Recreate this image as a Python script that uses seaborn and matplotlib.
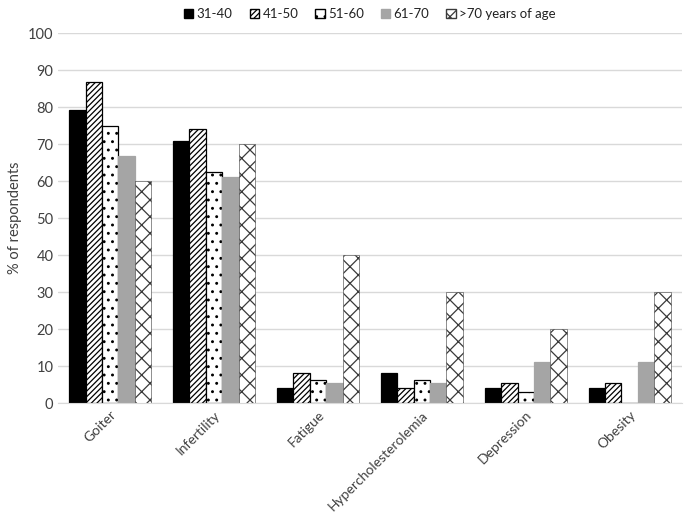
import pandas as pd
import seaborn as sb
from matplotlib import pyplot as plt
from matplotlib.patches import Patch

conditions = ['Goiter', 'Infertility', 'Fatigue', 'Hypercholesterolemia', 'Depression', 'Obesity']
age_groups = ['31-40', '41-50', '51-60', '61-70', '>70 years of age']
v_31_40 = [79.2, 70.8, 4.2, 8.3, 4.2, 4.2]
v_41_50 = [86.7, 74.1, 8.3, 4.2, 5.6, 5.6]
v_51_60 = [75.0, 62.5, 6.3, 6.3, 3.1, 0.0]
v_61_70 = [66.7, 61.1, 5.6, 5.6, 11.1, 11.1]
v_over70 = [60.0, 70.0, 40.0, 30.0, 20.0, 30.0]

rows = []
for grp, vals in zip(age_groups, [v_31_40, v_41_50, v_51_60, v_61_70, v_over70]):
    for cond, v in zip(conditions, vals):
        rows.append({'condition': cond, 'age': grp, 'value': v})
df = pd.DataFrame(rows)

sb.set_style('white')
plt.rcParams['font.family'] = ['Lato', 'DejaVu Sans']
plt.rcParams['hatch.linewidth'] = 0.9

fig, ax = plt.subplots(figsize=(6.85, 5.17), dpi=100)
sb.barplot(data=df, x='condition', y='value', hue='age', hue_order=age_groups,
           order=conditions, ax=ax, width=0.79, legend=False)

styles = [
    dict(facecolor='black', edgecolor='black', hatch=None, lw=0.9),
    dict(facecolor='white', edgecolor='black', hatch='//////', lw=0.9),
    dict(facecolor='white', edgecolor='black', hatch='..', lw=0.9),
    dict(facecolor='#a5a5a5', edgecolor='#a5a5a5', hatch=None, lw=0.9),
    dict(facecolor='white', edgecolor='#3a3a3a', hatch='xx', lw=0.4),
]
for cont, st in zip(ax.containers, styles):
    for p in cont.patches:
        p.set_facecolor(st['facecolor'])
        p.set_edgecolor(st['edgecolor'])
        p.set_linewidth(st['lw'])
        if st['hatch']:
            p.set_hatch(st['hatch'])

handles = []
for st in styles:
    handles.append(Patch(facecolor=st['facecolor'], edgecolor=st['edgecolor'], hatch=st['hatch']))
ax.legend(handles, age_groups, loc='upper center', bbox_to_anchor=(0.5, 1.1), ncol=5,
          frameon=False, fontsize=9.5, handlelength=0.7, handleheight=0.7,
          handletextpad=0.25, columnspacing=1.3, labelcolor='#222222')

ax.set_ylim(0, 100)
ax.set_yticks(range(0, 101, 10))
ax.yaxis.grid(True, color='#d9d9d9', linewidth=1)
ax.set_axisbelow(True)
for s in ['top', 'right', 'left']:
    ax.spines[s].set_visible(False)
ax.spines['bottom'].set_color('#d9d9d9')
ax.tick_params(axis='both', length=0, labelsize=10.5, colors='#404040')
ax.tick_params(axis='x', pad=4, labelsize=10)
plt.setp(ax.get_xticklabels(), rotation=45, ha='right', rotation_mode='anchor')
ax.set_xlabel('')
ax.set_ylabel('% of respondents', fontsize=10.5, color='#404040')
ax.set_xlim(-0.5, 5.5)

plt.subplots_adjust(left=0.085, right=0.995, top=0.936, bottom=0.22)
plt.savefig('out.png', dpi=100)
